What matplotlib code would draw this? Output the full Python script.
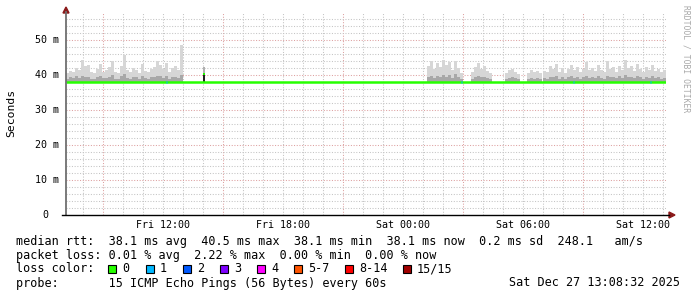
import matplotlib
matplotlib.use("Agg")
import matplotlib.pyplot as plt
from matplotlib.patches import Polygon, Rectangle
from matplotlib.lines import Line2D
import numpy as np

# ---------------- data ----------------
t_start, t_end = 7.1333, 37.1333          # hours since Fri 00:00
step = 0.15                               # hours per smoke sample
median_rtt = 38.1                         # ms

xtick_hours = [12, 18, 24, 30, 36]
xtick_labels = ["Fri 12:00", "Fri 18:00", "Sat 00:00", "Sat 06:00", "Sat 12:00"]
ytick_values = [0, 10, 20, 30, 40, 50]
ytick_labels = ["0", "10 m", "20 m", "30 m", "40 m", "50 m"]

region_a_start = 7.133
region_a_top = [40.5, 41.2, 40.8, 42.0, 41.5, 44.2, 42.5, 43.0, 41.0, 40.6, 41.8, 43.2, 40.9,
                41.4, 42.2, 44.0, 41.0, 40.7, 42.6, 45.8, 41.3, 40.8, 42.0, 41.5, 40.6, 43.1,
                41.2, 40.9, 41.7, 42.4, 44.1, 42.8, 41.6, 43.3, 40.8, 41.9, 42.5, 41.3, 48.5]
region_a_mid = [39.0, 39.4, 39.2, 39.6, 39.1, 39.8, 39.5, 39.3, 39.0, 38.9, 39.4, 39.7, 39.1,
                39.2, 39.5, 39.9, 39.0, 38.9, 39.6, 40.2, 39.2, 39.0, 39.4, 39.3, 38.9, 39.6,
                39.2, 39.0, 39.3, 39.5, 39.8, 39.6, 39.2, 39.7, 39.0, 39.3, 39.5, 39.2, 40.0]

region_b_start = 25.18
region_b_top = [42.5, 44.0, 41.8, 43.5, 42.2, 44.3, 42.8, 43.8, 41.5, 44.0, 42.0, 40.5]
region_b_mid = [39.3, 39.8, 39.2, 39.7, 39.4, 40.0, 39.5, 39.9, 39.2, 40.2, 39.3, 38.8]

region_c_start = 27.38
region_c_top = [40.8, 42.3, 43.5, 41.8, 42.6, 41.2, 40.6]
region_c_mid = [39.0, 39.4, 39.8, 39.3, 39.5, 39.1, 38.9]

region_d_start = 29.08
region_d_top = [40.5, 41.3, 41.8, 41.0, 40.4]
region_d_mid = [38.9, 39.2, 39.3, 39.1, 38.8]

region_e_start = 30.18
region_e_top = [40.6, 41.5, 40.9, 41.2, 40.5]
region_e_mid = [38.9, 39.2, 39.0, 39.1, 38.8]

region_f_start = 30.98
region_f_top = [41.2, 40.8, 42.5, 41.6, 43.2, 41.0, 42.1, 40.7, 41.8, 43.0, 41.5, 42.4, 40.9,
                41.7, 43.6, 41.3, 42.0, 41.1, 42.8, 41.4, 40.8, 43.9, 41.6, 42.2, 41.0, 42.7,
                41.3, 44.3, 41.9, 42.5, 41.2, 43.1, 41.7, 40.9, 42.3, 41.5, 42.9, 41.1, 41.8,
                40.9, 41.4]
region_f_mid = [39.1, 39.0, 39.5, 39.3, 39.7, 39.0, 39.4, 38.9, 39.3, 39.6, 39.2, 39.5, 39.0,
                39.3, 39.8, 39.2, 39.4, 39.1, 39.6, 39.2, 39.0, 39.8, 39.3, 39.5, 39.1, 39.6,
                39.2, 39.9, 39.4, 39.5, 39.1, 39.7, 39.3, 39.0, 39.5, 39.2, 39.6, 39.1, 39.3,
                39.0, 39.2]

spike_time = 14.03
spike_top = 42.4
spike_dark = 40.7
spike_median = 40.3

loss1_times = [12.13, 26.88, 32.48, 36.33]

loss_labels = ["0", "1", "2", "3", "4", "5-7", "8-14", "15/15"]
loss_colors = ["#26ff00", "#00b8ff", "#0059ff", "#7e00ff", "#ff00ff", "#ff5500", "#ff0000", "#a00000"]

line1 = "median rtt:  38.1 ms avg  40.5 ms max  38.1 ms min  38.1 ms now  0.2 ms sd  248.1   am/s"
line2 = "packet loss: 0.01 % avg  2.22 % max  0.00 % min  0.00 % now"
line3 = "loss color:"
line4 = "probe:       15 ICMP Echo Pings (56 Bytes) every 60s"
stamp = "Sat Dec 27 13:08:32 2025"

# ---------------- figure ----------------
W, H = 697, 297
fig = plt.figure(figsize=(W / 100, H / 100), dpi=100, facecolor="white")

def fx(x):
    return x / W

def fy(y):
    return 1 - y / H

ax_l, ax_r, ax_t, ax_b = 66, 666, 12, 215
ax = fig.add_axes([fx(ax_l), fy(ax_b), (ax_r - ax_l) / W, (ax_b - ax_t) / H])
ax.set_xlim(t_start, t_end)
ax.set_ylim(0, 58)
ax.set_facecolor("white")
for s in ax.spines.values():
    s.set_visible(False)
ax.set_xticks([])
ax.set_yticks([])

# grid
minor_col = "#c4c4c4"
major_col = "#dda0a0"
dots = (0, (1, 1.6))
for h in range(8, 38):
    if h % 6 == 3:
        continue
    ax.axvline(h, color=minor_col, lw=0.75, ls=dots, zorder=0)
for h in range(9, 38, 6):
    ax.axvline(h, color=major_col, lw=0.75, ls=dots, zorder=0)
for v in range(2, 58, 2):
    if v % 10 == 0:
        continue
    ax.axhline(v, color=minor_col, lw=0.75, ls=dots, zorder=0)
for v in range(10, 58, 10):
    ax.axhline(v, color=major_col, lw=0.75, ls=dots, zorder=0)

# smoke
regions = [
    (region_a_start, region_a_top, region_a_mid),
    (region_b_start, region_b_top, region_b_mid),
    (region_c_start, region_c_top, region_c_mid),
    (region_d_start, region_d_top, region_d_mid),
    (region_e_start, region_e_top, region_e_mid),
    (region_f_start, region_f_top, region_f_mid),
]
for start, top, mid in regions:
    n = len(top)
    tt = start + step * np.arange(n + 1)
    top_e = np.append(top, top[-1])
    mid_e = np.append(mid, mid[-1])
    base = np.full(n + 1, median_rtt)
    ax.fill_between(tt, base, top_e, step="post", color="#d6d6d6", lw=0, zorder=2)
    ax.fill_between(tt, base, mid_e, step="post", color="#a8a8a8", lw=0, zorder=3)

# spike
ax.bar([spike_time], [spike_top - median_rtt], bottom=median_rtt, width=0.1,
       color="#b0b0b0", lw=0, zorder=3)
ax.bar([spike_time], [spike_dark - median_rtt], bottom=median_rtt, width=0.1,
       color="#202020", lw=0, zorder=4)
ax.plot([spike_time - 0.05, spike_time + 0.05], [spike_median, spike_median],
        color=loss_colors[0], lw=1.4, zorder=5, solid_capstyle="butt")

# median line
ax.plot([t_start, t_end], [median_rtt, median_rtt], color=loss_colors[0], lw=1.8,
        zorder=5, solid_capstyle="butt")
for lt in loss1_times:
    ax.plot([lt, lt + 0.05], [median_rtt, median_rtt], color=loss_colors[1], lw=1.8,
            zorder=6, solid_capstyle="butt")

# axes lines and arrows
arrow_col = "#8b1a1a"
fig.add_artist(Line2D([fx(66), fx(66)], [fy(215), fy(12)], color="#707070", lw=1.3))
fig.add_artist(Line2D([fx(62), fx(669)], [fy(215), fy(215)], color="black", lw=1.0))
fig.add_artist(Polygon([(fx(63), fy(13)), (fx(69), fy(13)), (fx(66), fy(7))],
                       closed=True, color=arrow_col, transform=fig.transFigure))
fig.add_artist(Polygon([(fx(669), fy(212)), (fx(669), fy(218)), (fx(675), fy(215))],
                       closed=True, color=arrow_col, transform=fig.transFigure))

# tick labels
mono = "DejaVu Sans Mono"
for h, lab in zip(xtick_hours, xtick_labels):
    x = ax_l + (h - t_start) / (t_end - t_start) * (ax_r - ax_l)
    fig.text(fx(x), fy(225), lab, ha="center", va="center", family=mono, fontsize=7.2)
for v, lab in zip(ytick_values, ytick_labels):
    y = ax_b - v / 58 * (ax_b - ax_t)
    xr = 59 if v else 48
    fig.text(fx(xr), fy(y), lab, ha="right", va="center", family=mono, fontsize=7.2)

fig.text(fx(11), fy(113), "Seconds", rotation=90, ha="center", va="center",
         family=mono, fontsize=8.2)
fig.text(fx(686), fy(59), "RRDTOOL / TOBI OETIKER", rotation=-90, ha="center",
         va="center", family=mono, fontsize=5.8, color="#a8a8a8")

# legend text
fs = 8.5
fig.text(fx(16), fy(241), line1, ha="left", va="center", family=mono, fontsize=fs)
fig.text(fx(16), fy(256), line2, ha="left", va="center", family=mono, fontsize=fs)
fig.text(fx(16), fy(269), line3, ha="left", va="center", family=mono, fontsize=fs)
fig.text(fx(16), fy(283), line4, ha="left", va="center", family=mono, fontsize=fs)
fig.text(fx(680), fy(283), stamp, ha="right", va="center", family=mono, fontsize=fs)

box_x = [108, 146, 183, 220, 257, 294, 345, 403]
for bx, lab, col in zip(box_x, loss_labels, loss_colors):
    fig.add_artist(Rectangle((fx(bx), fy(273)), 8 / W, 8 / H, facecolor=col,
                             edgecolor="black", lw=0.8, transform=fig.transFigure))
    fig.text(fx(bx + 14), fy(269), lab, ha="left", va="center", family=mono, fontsize=fs)

fig.savefig("out.png", dpi=100, facecolor="white")
